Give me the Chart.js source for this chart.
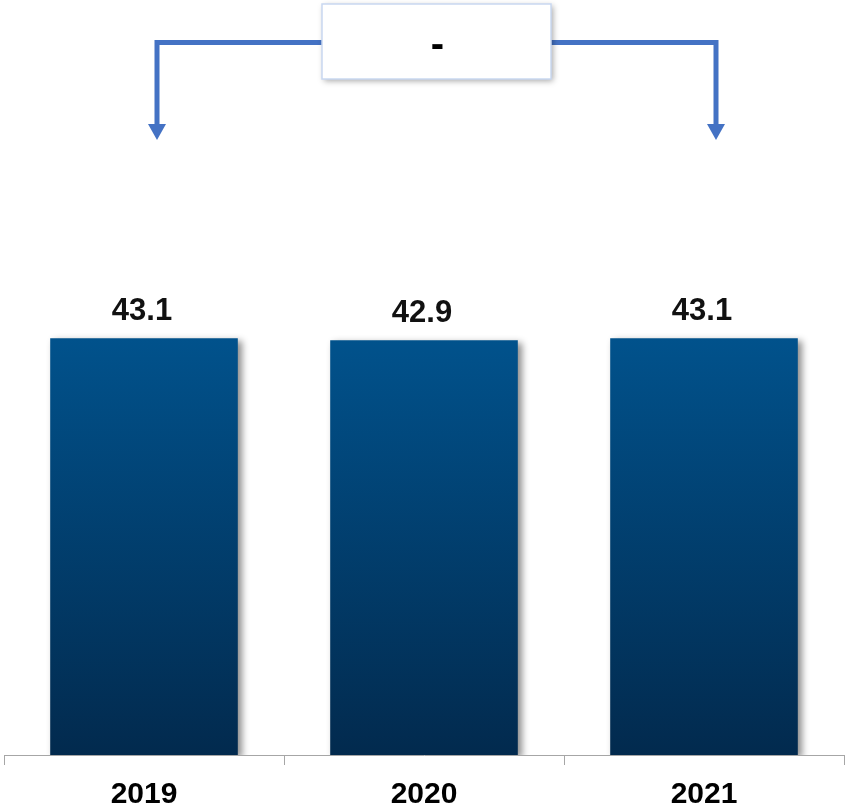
<!DOCTYPE html>
<html>
<head>
<meta charset="utf-8">
<title>2019 - 2021</title>
<script src="https://cdn.jsdelivr.net/npm/chart.js@4.4.1/dist/chart.umd.min.js"></script>
<style>
  html, body { margin: 0; padding: 0; background: #ffffff; }
  #wrap { width: 845px; height: 808px; }
</style>
</head>
<body>
<div id="wrap"><canvas id="barChart" width="845" height="808"></canvas></div>
<script>
// Chart data
const years = ['2019', '2020', '2021'];
const values = [43.1, 42.9, 43.1];
const changeLabel = '-';

const FONT = "'Liberation Sans', Arial, Helvetica, sans-serif";

/**
 * Vertical gradient for each bar, from its top down to the axis
 */
function barGradient(context) {
  const chart = context.chart;
  const area = chart.chartArea;
  if (!area) {
    return '#013f6e';
  }
  const yScale = chart.scales.y;
  const top = yScale.getPixelForValue(values[context.dataIndex]);
  const g = chart.ctx.createLinearGradient(0, top, 0, area.bottom);
  g.addColorStop(0, '#01528c');
  g.addColorStop(1, '#022a4e');
  return g;
}

/**
 * Soft drop shadow behind the bars
 */
const barShadow = {
  id: 'barShadow',
  beforeDatasetsDraw(chart) {
    const ctx = chart.ctx;
    ctx.save();
    ctx.shadowColor = 'rgba(0, 0, 0, 0.45)';
    ctx.shadowBlur = 7;
    ctx.shadowOffsetX = 4;
    ctx.shadowOffsetY = 3;
  },
  afterDatasetsDraw(chart) {
    chart.ctx.restore();
  }
};

/**
 * Value labels above the bars
 */
const valueLabels = {
  id: 'valueLabels',
  afterDatasetsDraw(chart) {
    const ctx = chart.ctx;
    const meta = chart.getDatasetMeta(0);
    ctx.save();
    ctx.font = 'bold 31px ' + FONT;
    ctx.fillStyle = '#111111';
    ctx.textAlign = 'center';
    ctx.textBaseline = 'alphabetic';
    meta.data.forEach((bar, i) => {
      ctx.fillText(values[i].toFixed(1), bar.x - 2, bar.y - 18);
    });
    ctx.restore();
  }
};

/**
 * Bracket from the first to the last year with the change box in the middle
 */
const changeBracket = {
  id: 'changeBracket',
  afterDraw(chart) {
    const ctx = chart.ctx;
    const xScale = chart.scales.x;
    const x0 = xScale.getPixelForValue(0) + 13;
    const x1 = xScale.getPixelForValue(years.length - 1) + 12;
    const mid = (x0 + x1) / 2;
    const lineY = 42.5;
    const tipY = 140;
    const headH = 16;
    const boxW = 229;
    const boxH = 75;
    const boxTop = 4;

    ctx.save();
    ctx.strokeStyle = '#4472c4';
    ctx.fillStyle = '#4472c4';
    ctx.lineWidth = 5;
    ctx.lineJoin = 'miter';

    // connector lines
    [x0, x1].forEach(x => {
      ctx.beginPath();
      ctx.moveTo(x, tipY - headH + 1);
      ctx.lineTo(x, lineY);
      ctx.lineTo(mid, lineY);
      ctx.stroke();

      // arrow head
      ctx.beginPath();
      ctx.moveTo(x - 9, tipY - headH);
      ctx.lineTo(x + 9, tipY - headH);
      ctx.lineTo(x, tipY);
      ctx.closePath();
      ctx.fill();
    });

    // label box
    const bx = mid - boxW / 2;
    ctx.shadowColor = 'rgba(0, 0, 0, 0.35)';
    ctx.shadowBlur = 6;
    ctx.shadowOffsetX = 2;
    ctx.shadowOffsetY = 2;
    ctx.fillStyle = '#ffffff';
    ctx.fillRect(bx, boxTop, boxW, boxH);
    ctx.shadowColor = 'transparent';
    ctx.strokeStyle = '#c9d8f1';
    ctx.lineWidth = 1.5;
    ctx.strokeRect(bx, boxTop, boxW, boxH);

    ctx.font = 'bold 40px ' + FONT;
    ctx.fillStyle = '#000000';
    ctx.textAlign = 'center';
    ctx.textBaseline = 'middle';
    ctx.fillText(changeLabel, mid + 1, boxTop + boxH / 2 + 4);
    ctx.restore();
  }
};

new Chart(document.getElementById('barChart'), {
  type: 'bar',
  data: {
    labels: years,
    datasets: [{
      data: values,
      backgroundColor: barGradient,
      borderWidth: 0,
      barPercentage: 0.67,
      categoryPercentage: 1.0
    }]
  },
  options: {
    responsive: false,
    animation: false,
    events: [],
    layout: {
      padding: { top: 175, left: 4, right: 1, bottom: -17 }
    },
    plugins: {
      legend: { display: false },
      tooltip: { enabled: false }
    },
    scales: {
      x: {
        grid: {
          display: true,
          offset: true,
          drawOnChartArea: false,
          drawTicks: true,
          tickLength: 10,
          color: '#a6a6a6',
          lineWidth: 1
        },
        border: { display: true, color: '#a6a6a6', width: 1 },
        ticks: {
          color: '#000000',
          padding: 15,
          font: { family: FONT, size: 30, weight: 'bold', lineHeight: 1 }
        }
      },
      y: {
        display: false,
        min: 0,
        max: 60
      }
    }
  },
  plugins: [barShadow, valueLabels, changeBracket]
});
</script>
</body>
</html>
